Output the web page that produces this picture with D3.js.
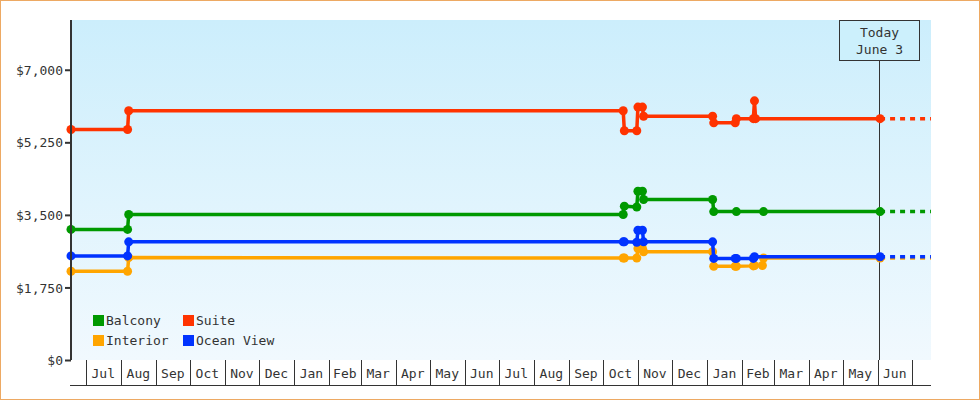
<!DOCTYPE html>
<html>
<head>
<meta charset="utf-8">
<script src="https://cdn.jsdelivr.net/npm/d3@7"></script>
<style>
  body { margin: 0; background: #fff; }
  svg text { font-family: "DejaVu Sans Mono", monospace; font-size: 13px; fill: #333; }
</style>
</head>
<body>
<div id="chart"></div>
<script>
var seriesNames = ["Balcony", "Suite", "Interior", "Ocean View"];
var seriesColors = ["#009900", "#ff3300", "#ffa500", "#0033ff"];

// observation dates and prices, one pair of arrays per cabin type
var balconyDates = ["2013-06-18", "2013-08-07", "2013-08-08", "2014-10-19", "2014-10-20", "2014-10-31", "2014-11-01", "2014-11-05", "2014-11-06", "2015-01-06", "2015-01-07", "2015-01-27", "2015-02-20", "2015-06-03"];
var balconyValues = [3150, 3150, 3510, 3510, 3710, 3690, 4070, 4070, 3870, 3870, 3580, 3580, 3580, 3580];

var suiteDates = ["2013-06-18", "2013-08-07", "2013-08-08", "2014-10-19", "2014-10-20", "2014-10-31", "2014-11-01", "2014-11-05", "2014-11-06", "2015-01-06", "2015-01-07", "2015-01-26", "2015-01-27", "2015-02-11", "2015-02-12", "2015-02-13", "2015-06-03"];
var suiteValues = [5560, 5560, 6010, 6010, 5530, 5530, 6100, 6100, 5880, 5880, 5720, 5720, 5820, 5820, 6250, 5820, 5820];

var interiorDates = ["2013-06-18", "2013-08-07", "2013-08-08", "2014-10-19", "2014-10-20", "2014-10-31", "2014-11-01", "2014-11-05", "2014-11-06", "2015-01-06", "2015-01-07", "2015-01-26", "2015-01-27", "2015-02-11", "2015-02-12", "2015-02-19", "2015-02-20", "2015-06-03"];
var interiorValues = [2140, 2140, 2470, 2460, 2460, 2460, 2690, 2690, 2610, 2610, 2260, 2260, 2260, 2270, 2280, 2280, 2460, 2460];

var oceanDates = ["2013-06-18", "2013-08-07", "2013-08-08", "2014-10-19", "2014-10-20", "2014-10-31", "2014-11-01", "2014-11-05", "2014-11-06", "2015-01-06", "2015-01-07", "2015-01-26", "2015-01-27", "2015-02-11", "2015-02-12", "2015-06-03"];
var oceanValues = [2510, 2510, 2850, 2850, 2850, 2840, 3130, 3130, 2850, 2850, 2450, 2450, 2450, 2450, 2490, 2490];

var yTicks = [0, 1750, 3500, 5250, 7000];
var todayDate = "2015-06-03";
var todayLabel = ["Today", "June 3"];
var startDate = "2013-06-18", endDate = "2015-07-18";

var parseTime = d3.timeParse("%Y-%m-%d");

var width = 980, height = 400;
var margin = {top: 20, right: 49, bottom: 40, left: 71};
var plotW = width - margin.left - margin.right,
    plotH = height - margin.top - margin.bottom;

var svg = d3.select("#chart").append("svg")
    .attr("width", width)
    .attr("height", height);

// outer frame
svg.append("rect")
    .attr("x", 0.5).attr("y", 0.5)
    .attr("width", width - 1).attr("height", height - 1)
    .attr("fill", "#fff")
    .attr("stroke", "#eda963");

var grad = svg.append("defs").append("linearGradient")
    .attr("id", "bg").attr("x1", 0).attr("y1", 0).attr("x2", 0).attr("y2", 1);
grad.append("stop").attr("offset", "0%").attr("stop-color", "#cceefc");
grad.append("stop").attr("offset", "100%").attr("stop-color", "#f1f9fe");

var g = svg.append("g")
    .attr("transform", "translate(" + margin.left + "," + margin.top + ")");

var x = d3.scaleTime()
    .domain([parseTime(startDate), parseTime(endDate)])
    .range([0, plotW]);
var y = d3.scaleLinear().domain([0, 8200]).range([plotH, 0]);

g.append("rect")
    .attr("width", plotW).attr("height", plotH)
    .attr("fill", "url(#bg)");

var series = [
    {dates: balconyDates, values: balconyValues},
    {dates: suiteDates, values: suiteValues},
    {dates: interiorDates, values: interiorValues},
    {dates: oceanDates, values: oceanValues}
].map(function(s, i) {
    return {
        name: seriesNames[i],
        color: seriesColors[i],
        points: s.dates.map(function(d, j) { return {date: parseTime(d), value: s.values[j]}; })
    };
});

// today marker
var today = parseTime(todayDate);
var tx = Math.round(x(today)) - 0.5;
g.append("line")
    .attr("x1", tx).attr("x2", tx)
    .attr("y1", 41).attr("y2", plotH)
    .attr("stroke", "#333").attr("stroke-width", 1);
g.append("rect")
    .attr("x", tx - 40).attr("y", 0.5)
    .attr("width", 80).attr("height", 40)
    .attr("fill", "#ccf0fc").attr("stroke", "#333");
g.selectAll(".today-label")
    .data(todayLabel)
  .enter().append("text")
    .attr("x", tx)
    .attr("y", function(d, i) { return 17 + i * 17; })
    .attr("text-anchor", "middle")
    .text(function(d) { return d; });

var valueline = d3.line()
    .x(function(d) { return x(d.date); })
    .y(function(d) { return y(d.value); });

series.forEach(function(s) {
    var last = s.points[s.points.length - 1];
    // projection past today
    g.append("line")
        .attr("x1", x(last.date)).attr("x2", plotW)
        .attr("y1", y(last.value)).attr("y2", y(last.value))
        .attr("stroke", s.color).attr("stroke-width", 3.5)
        .attr("stroke-dasharray", "5,5");

    g.append("path")
        .datum(s.points)
        .attr("d", valueline)
        .attr("fill", "none")
        .attr("stroke", s.color)
        .attr("stroke-width", 3.5);

    g.selectAll(null)
        .data(s.points)
      .enter().append("circle")
        .attr("cx", function(d) { return x(d.date); })
        .attr("cy", function(d) { return y(d.value); })
        .attr("r", 4.5)
        .attr("fill", s.color);
});

// y axis
var yAxis = g.append("g")
    .call(d3.axisLeft(y).tickValues(yTicks).tickSize(6).tickFormat(d3.format("$,")));
yAxis.select(".domain").attr("stroke", "#333").attr("stroke-width", 2)
    .attr("d", "M0,0V" + plotH);
yAxis.selectAll(".tick line").attr("stroke", "#333").attr("stroke-width", 2);
yAxis.selectAll(".tick text")
    .attr("x", -8).attr("dy", "0.35em")
    .style("font-family", "DejaVu Sans Mono, monospace").style("font-size", "13px")
    .attr("fill", "#333");

// month bands under the plot
var months = x.ticks(d3.timeMonth.every(1)).filter(function(d) { return x(d) > 0; });
var xg = g.append("g").attr("transform", "translate(0," + plotH + ")");
xg.append("line")
    .attr("x1", -1).attr("x2", plotW)
    .attr("y1", 25.5).attr("y2", 25.5)
    .attr("stroke", "#333");
xg.selectAll(".sep")
    .data(months)
  .enter().append("line")
    .attr("x1", function(d) { return Math.round(x(d)) + 0.5; })
    .attr("x2", function(d) { return Math.round(x(d)) + 0.5; })
    .attr("y1", 0).attr("y2", 25)
    .attr("stroke", "#333");
xg.selectAll(".mlabel")
    .data(months.slice(0, -1))
  .enter().append("text")
    .attr("x", function(d) { return (x(d) + x(d3.timeMonth.offset(d, 1))) / 2; })
    .attr("y", 18)
    .attr("text-anchor", "middle")
    .text(function(d) { return d3.timeFormat("%b")(d); });

// legend
var legend = g.selectAll(".legend")
    .data(series)
  .enter().append("g")
    .attr("transform", function(d, i) {
        return "translate(" + (22 + (i % 2) * 90) + "," + (295 + Math.floor(i / 2) * 20) + ")";
    });
legend.append("rect")
    .attr("width", 11).attr("height", 11)
    .attr("fill", function(d) { return d.color; });
legend.append("text")
    .attr("x", 13).attr("y", 10)
    .text(function(d) { return d.name; });
</script>
</body>
</html>
